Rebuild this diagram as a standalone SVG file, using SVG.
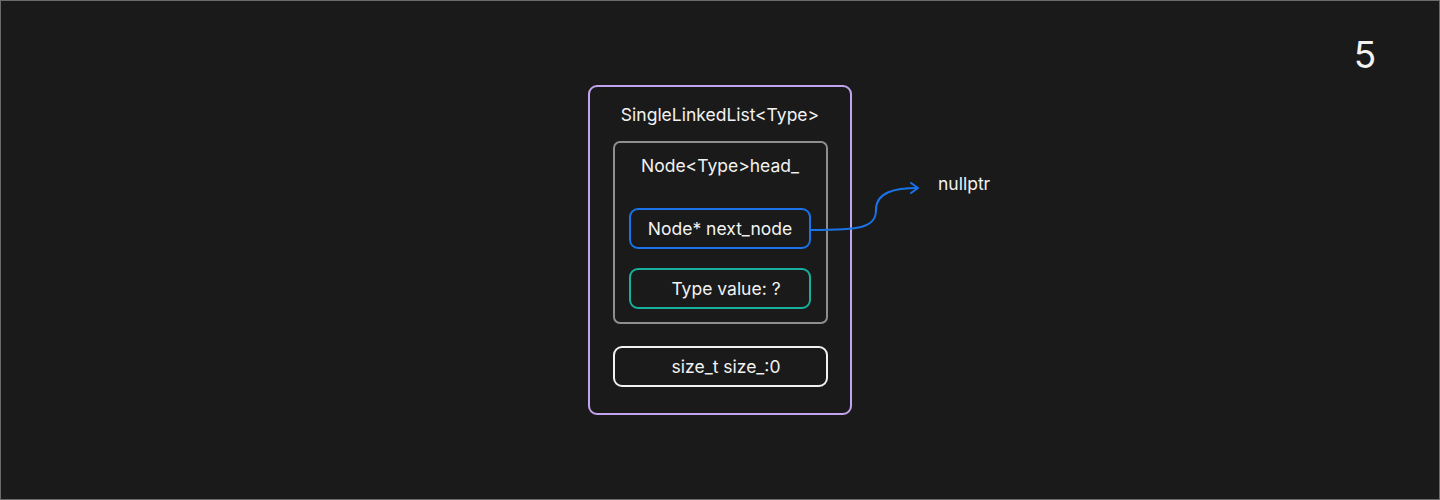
<svg xmlns="http://www.w3.org/2000/svg" width="1440" height="500" viewBox="0 0 1440 500">
<defs>
<style>
.t{font-family:Inter,"Liberation Sans",sans-serif;font-size:17.5px;fill:#f2f2f2;text-anchor:middle}
.b{fill:#1a1a1a;stroke-width:2}
</style>
<marker id="arr" viewBox="0 0 12 12" refX="10" refY="6" markerWidth="12" markerHeight="12" markerUnits="userSpaceOnUse" orient="auto">
<path d="M3,1 L10,6 L3,11" fill="none" stroke="#1a73e8" stroke-width="2" stroke-linecap="round" stroke-linejoin="round"/>
</marker>
</defs>
<rect x="0.5" y="0.5" width="1439" height="499" fill="#1a1a1a" stroke="#6b6b6b" stroke-width="1"/>
<text x="1365" y="68" class="t" style="font-size:37px">5</text>
<g id="list">
<rect class="b" x="589" y="86" width="262" height="328" rx="8" stroke="#c3a4ef"/>
<text x="720" y="121" class="t">SingleLinkedList&lt;Type&gt;</text>
</g>
<g id="head">
<rect class="b" x="614" y="142" width="213" height="181" rx="6" stroke="#8e8e8e"/>
<text x="720" y="172" class="t">Node&lt;Type&gt;head_</text>
</g>
<g id="next_node">
<rect class="b" x="630" y="209" width="180" height="39" rx="8" stroke="#1a73e8"/>
<text x="720" y="235" class="t">Node* next_node</text>
</g>
<g id="value">
<rect class="b" x="630" y="269" width="180" height="39" rx="8" stroke="#16b09c"/>
<text x="726" y="295" class="t">Type value: ?</text>
</g>
<g id="size">
<rect class="b" x="614" y="347" width="213" height="39" rx="8" stroke="#f2f2f2"/>
<text x="726" y="373" class="t">size_t size_:0</text>
</g>
<g id="nullptr">
<text x="938" y="190" class="t" style="text-anchor:start">nullptr</text>
</g>
<g id="connectors">
<path d="M811,230 C860,230 876,228 876,210 C876,192 895,188 918,188" fill="none" stroke="#1a73e8" stroke-width="2" marker-end="url(#arr)"/>
</g>
</svg>
